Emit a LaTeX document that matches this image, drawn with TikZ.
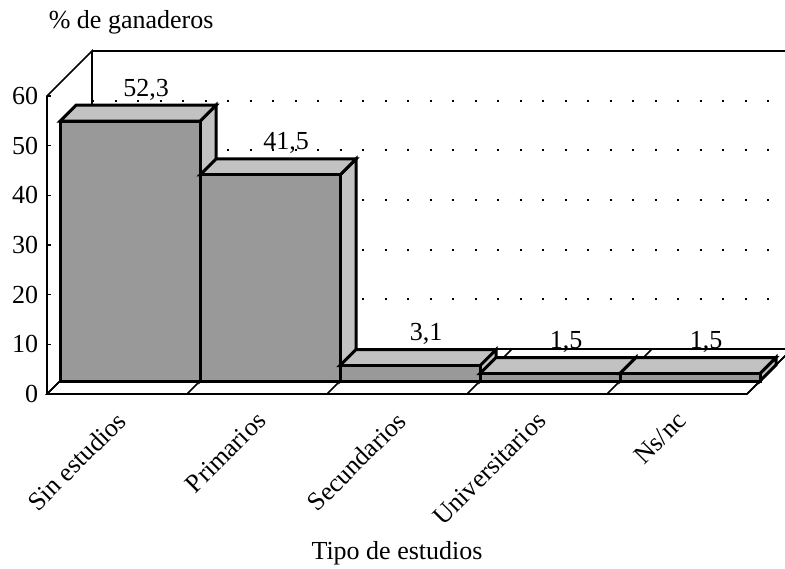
\documentclass[tikz,border=0pt]{standalone}
\usepackage{fontspec}
\setmainfont{Liberation Serif}
\usetikzlibrary{arrows}

\tikzset{
	frontcol/.style={fill=black!40, line width=1.5pt},
	facecol/.style={fill=black!24, line width=1.5pt},
	gridline/.style={dash pattern=on 1pt off 10.25pt, line width=1pt},
	lbl/.style={font=\fontsize{13}{15}\selectfont, inner sep=0pt},
}

\begin{document}
\begin{tikzpicture}[x=0.5pt, y=-0.5pt, thick]
\def\u{4.967}
\def\w{140}
\def\dd{16}
\useasboundingbox (0,0) rectangle (785,568);
\clip (0,0) rectangle (785,568);

% floor
\draw [fill=white] (47,394) -- (747,394) -- (792,349) -- (92,349) -- cycle;
\foreach \k in {0,...,5}
	\draw ({47+\w*\k},394) -- ({92+\w*\k},349);

% walls
\draw (47,394) -- (47,96) -- (92,51) -- (92,349);
\draw (92,51) -- (800,51);
\foreach \k in {1,...,5}
	\draw [gridline] (92,{349-10*\k*\u}) -- (800,{349-10*\k*\u});
\foreach \k in {0,...,6} {
	\draw (47,{394-10*\k*\u}) -- (51,{394-10*\k*\u});
	\pgfmathtruncatemacro\lab{10*\k}
	\node [lbl, anchor=east] (t\k) at (39,{394-10*\k*\u}) {\lab};
}

% bars
\foreach \v/\t [count=\i from 0] in {52.3/{52,3}, 41.5/{41,5}, 3.1/{3,1}, 1.5/{1,5}, 1.5/{1,5}} {
	\pgfmathsetmacro\xa{60+\w*\i}
	\pgfmathsetmacro\xb{\xa+\w}
	\pgfmathsetmacro\yt{381-\u*\v}
	\draw [facecol] (\xb,381) -- (\xb,\yt) -- ({\xb+\dd},{\yt-\dd}) -- ({\xb+\dd},{381-\dd}) -- cycle;
	\draw [facecol] (\xa,\yt) -- (\xb,\yt) -- ({\xb+\dd},{\yt-\dd}) -- ({\xa+\dd},{\yt-\dd}) -- cycle;
	\draw [frontcol] (\xa,381) rectangle (\xb,\yt);
	\node [lbl, anchor=base] (v\i) at ({(\xa+\xb)/2+\dd},{\yt-\dd-9}) {\t};
}

\foreach \c [count=\i from 0] in {Sin estudios, Primarios, Secundarios, Universitarios, Ns/nc}
	\node [lbl, rotate=45, anchor=east] (c\i) at ({122+\w*\i},416) {\c};

\node [lbl, anchor=base west] (ylab) at (48,28) {\% de ganaderos};
\node [lbl, anchor=base] (xlab) at (397,559) {Tipo de estudios};
\end{tikzpicture}
\end{document}
